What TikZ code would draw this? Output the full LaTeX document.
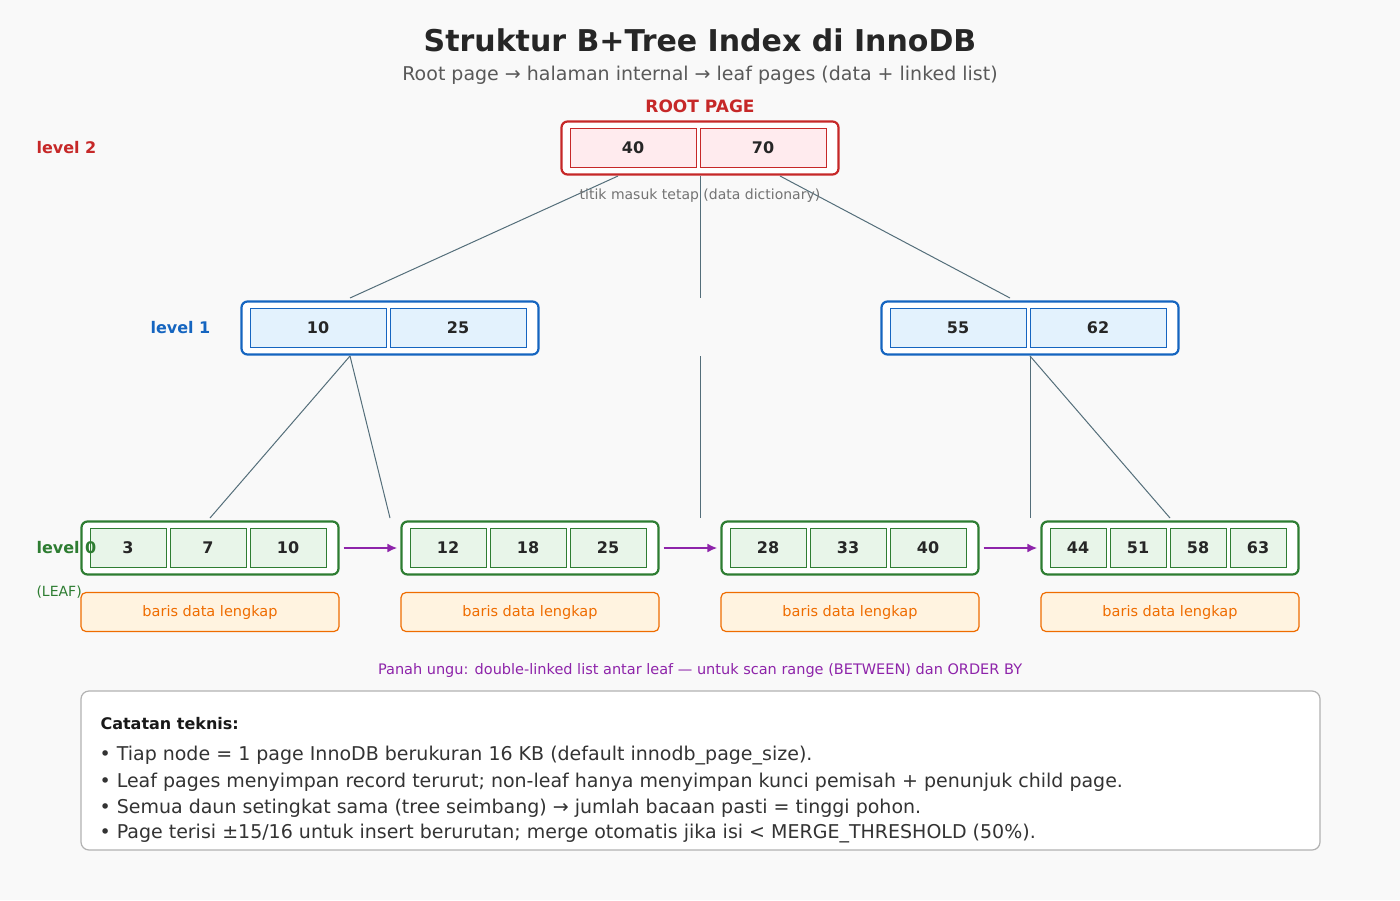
\documentclass[tikz,border=0pt]{standalone}
\usepackage{fontspec}
\setmainfont{DejaVu Sans}
\usetikzlibrary{arrows.meta,positioning}
\definecolor{bgc}{HTML}{F9F9F9}
\definecolor{rootc}{HTML}{C62828}\definecolor{rootf}{HTML}{FFEBEE}
\definecolor{intc}{HTML}{1565C0}\definecolor{intf}{HTML}{E3F2FD}
\definecolor{leafc}{HTML}{2E7D32}\definecolor{leaff}{HTML}{E8F5E9}
\definecolor{datc}{HTML}{EF6C00}\definecolor{datf}{HTML}{FFF3E0}
\definecolor{linkc}{HTML}{8E24AA}
\definecolor{edgec}{HTML}{546E7A}
\tikzset{
  page/.style={draw=#1,line width=2.2pt,rounded corners=6pt,fill=white,inner sep=0pt},
  cell/.style 2 args={draw=#1,fill=#2,line width=0.7pt,minimum height=39pt,inner sep=0pt,
    font=\fontsize{16}{18}\selectfont\bfseries,text=black!85},
  datbox/.style={draw=datc,fill=datf,line width=1.2pt,rounded corners=5pt,minimum width=258pt,
    minimum height=39pt,text=datc,font=\fontsize{14.5}{16}\selectfont},
  tree/.style={draw=edgec,line width=1pt},
  link/.style={draw=linkc,line width=2.2pt,-{Latex[length=10pt,width=9pt]}},
  lvl/.style={anchor=west,font=\fontsize{16}{18}\selectfont\bfseries}
}
\begin{document}
\begin{tikzpicture}[x=1pt,y=-1pt]
\def\cy {548}  % y of leaf keys
\def\iy {328}  % y of internal keys
\def\ry {148}  % y of root keys
\fill[bgc] (0,0) rectangle (1400,900);
\useasboundingbox (0,0) rectangle (1400,900);
% title
\node[text=black!85] (title) at (700,40) {\fontsize{30}{32}\selectfont\bfseries Struktur B+Tree Index di InnoDB};
\node[text=black!65] (sub) at (700,75) {\fontsize{19}{21}\selectfont Root page → halaman internal → leaf pages (data + linked list)};
% root
\node[page=rootc,minimum width=277pt,minimum height=53pt] (root) at (700,\ry) {};
\node[cell={rootc}{rootf},minimum width=126pt] (r40) at (633,\ry) {40};
\node[cell={rootc}{rootf},minimum width=126pt] (r70) at (763,\ry) {70};
\node[text=rootc,font=\fontsize{17}{19}\selectfont\bfseries] (rlab) at (700,106) {ROOT PAGE};
\node[lvl,text=rootc] (lv2) at (33,\ry) {level 2};
% internal
\foreach \nm/\x/\a/\b in {ia/390/10/25,ib/1030/55/62}{
  \node[page=intc,minimum width=297pt,minimum height=53pt] (\nm) at (\x,\iy) {};
  \node[cell={intc}{intf},minimum width=136pt] (\nm1) at (\x-72,\iy) {\a};
  \node[cell={intc}{intf},minimum width=136pt] (\nm2) at (\x+68,\iy) {\b};
}
\node[lvl,text=intc] (lv1) at (147,\iy) {level 1};
% leaves
\foreach \nm/\x/\a/\b/\c in {la/210/3/7/10,lb/530/12/18/25,lc/850/28/33/40}{
  \node[page=leafc,minimum width=257pt,minimum height=53pt] (\nm) at (\x,\cy) {};
  \node[cell={leafc}{leaff},minimum width=76pt] at (\x-82,\cy) {\a};
  \node[cell={leafc}{leaff},minimum width=76pt] at (\x-2,\cy) {\b};
  \node[cell={leafc}{leaff},minimum width=76pt] at (\x+78,\cy) {\c};
  \node[datbox] (d\nm) at (\x,612) {baris data lengkap};
}
\node[page=leafc,minimum width=257pt,minimum height=53pt] (ld) at (1170,\cy) {};
\foreach \k/\x in {44/1078,51/1138,58/1198,63/1258}
  \node[cell={leafc}{leaff},minimum width=56pt] at (\x,\cy) {\k};
\node[datbox] (dld) at (1170,612) {baris data lengkap};
\node[lvl,text=leafc] (lv0) at (33,\cy) {level 0};
\node[anchor=west,text=leafc,font=\fontsize{14}{16}\selectfont] (leaf) at (33,592) {(LEAF)};
% tree edges
\coordinate (m1) at (700,298);
\coordinate (m2) at (700,356);
\coordinate (m3) at (700,518);
\draw[tree] (618,176) -- (350,298);
\draw[tree] (root.south) -- (m1);
\draw[tree] (m2) -- (m3);
\draw[tree] (780,176) -- (1010,298);
\draw[tree] (350,356) -- (210,518);
\draw[tree] (350,356) -- (390,518);
\draw[tree] (1030,356) -- (1030,518);
\draw[tree] (1030,356) -- (1170,518);
\node[text=black!55,font=\fontsize{14}{16}\selectfont] (dict) at (700,196) {titik masuk tetap (data dictionary)};
% linked list
\draw[link] (la.east) ++(4,0) -- ([xshift=-3pt]lb.west);
\draw[link] (lb.east) ++(4,0) -- ([xshift=-3pt]lc.west);
\draw[link] (lc.east) ++(4,0) -- ([xshift=-3pt]ld.west);
\node[text=linkc,font=\fontsize{14.5}{16}\selectfont] (cap) at (700,670) {Panah ungu: double-linked list antar leaf — untuk scan range (BETWEEN) dan ORDER BY};
% notes
\draw[draw=black!30,fill=white,line width=1.2pt,rounded corners=8pt] (81,691) rectangle (1320,850);
\node[anchor=west,font=\fontsize{16}{18}\selectfont\bfseries,text=black!90] (nt) at (97,724) {Catatan teknis:};
\foreach \t [count=\i] in {
  {Tiap node = 1 page InnoDB berukuran 16 KB (default innodb\_page\_size).},
  {Leaf pages menyimpan record terurut; non-leaf hanya menyimpan kunci pemisah + penunjuk child page.},
  {Semua daun setingkat sama (tree seimbang) → jumlah bacaan pasti = tinggi pohon.},
  {Page terisi ±15/16 untuk insert berurutan; merge otomatis jika isi < MERGE\_THRESHOLD (50\%).}}
  \node[anchor=west,text=black!80,font=\fontsize{19}{21}\selectfont] (n\i) at (96,730+26*\i) {• \t};
\end{tikzpicture}
\end{document}
